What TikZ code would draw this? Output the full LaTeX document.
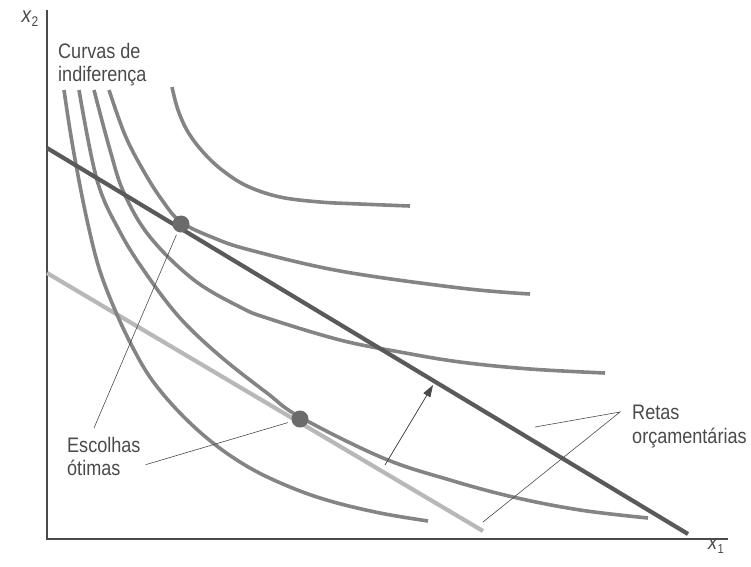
\documentclass[tikz,border=0pt]{standalone}
\usepackage{fontspec}
\usetikzlibrary{calc,positioning,arrows.meta}
\newfontfamily\labelfont[FakeStretch=0.86]{Liberation Sans}
\definecolor{curvegray}{HTML}{848484}
\definecolor{budgetdark}{HTML}{5A5A5A}
\definecolor{budgetlight}{HTML}{B8B8B8}
\definecolor{textgray}{HTML}{4A4A4A}

\begin{document}
\begin{tikzpicture}[x=1pt,y=-1pt,
	indiff/.style={curvegray, line width=3.6pt},
	budget/.style={line width=4.2pt},
	optdot/.style={circle, fill=budgetdark!90, minimum size=17pt, inner sep=0pt},
	leader/.style={textgray, line width=0.6pt},
	lbl/.style={font=\labelfont\fontsize{21}{23.5}\selectfont, text=textgray, align=left, inner sep=0pt, anchor=north west}]
	\useasboundingbox (0,0) rectangle (751,566);
	
	%axes
	\coordinate (orig) at (47,539);
	\draw[textgray, line width=1.6pt] (47,10) -- (orig) -- (728,539);
	\node[text=textgray, font=\labelfont\fontsize{22}{22}\selectfont] (xtwo) at (30,19) {\textit{x}\raisebox{-4pt}{\fontsize{14}{14}\selectfont 2}};
	\node[text=textgray, font=\labelfont\fontsize{21}{21}\selectfont] (xone) at (716,546) {\textit{x}\raisebox{-4pt}{\fontsize{13}{13}\selectfont 1}};
	
	%old budget line
	\draw[budget, budgetlight] (47,273) -- (483,531);
	
	%indifference curves
	\draw[indiff] plot [smooth, tension=0.6] coordinates {(64,90) (70,130) (77,170) (87,220) (99,268) (115,310) (133,348) (152,380) (180,413) (213,443) (250,468) (290,487) (330,501) (380,513) (428,521)};
	\draw[indiff] plot [smooth, tension=0.6] coordinates {(79,90) (97,180) (120,232) (147,275) (180,318) (220,356) (267,393) (300,417) (383,458) (450,480) (513,497) (580,510) (648,518)};
	\draw[indiff] plot [smooth, tension=0.6] coordinates {(94,90) (110,150) (124,193) (150,237) (194,280) (240,307) (267,318) (340,340) (400,352) (460,362) (530,369) (605,373)};
	\draw[indiff] plot [smooth, tension=0.6] coordinates {(109,90) (125,135) (143,170) (162,200) (181,222) (214,238) (250,250) (340,271) (460,288) (530,294)};
	\draw[indiff] plot [smooth, tension=0.6] coordinates {(172,87) (178,110) (188,132) (203,152) (222,170) (247,186) (280,197) (320,202) (360,204) (410,206)};
	
	%new budget line
	\draw[budget, budgetdark] (47,148) -- (688,534);
	
	%optimal choices
	\node[optdot] (optnew) at (181,224) {};
	\node[optdot] (optold) at (300,419) {};
	
	%shift of the budget line
	\coordinate (shtail) at (385,465);
	\coordinate (shtip) at (433,385);
	\draw[leader, line width=0.8pt, -{Triangle[length=12pt,width=8pt]}] (shtail) -- (shtip);
	
	%labels
	\node[lbl] (curvas) at (58,43) {Curvas de\\indiferença};
	\node[lbl] (escolhas) at (67,437) {Escolhas\\ótimas};
	\node[lbl] (retas) at (632,405) {Retas\\orçamentárias};
	
	%leaders
	\draw[leader, shorten >=3pt] ([shift={(27pt,9pt)}]escolhas.north west) -- (optnew);
	\draw[leader, shorten >=4pt] ([shift={(5pt,-8pt)}]escolhas.east) -- (optold);
	\coordinate (rjoin) at ([shift={(-12pt,-7pt)}]retas.north west);
	\coordinate (rnew) at (535,427);
	\coordinate (rold) at (483,522);
	\draw[leader] (rnew) -- (rjoin) -- (rold);
\end{tikzpicture}
\end{document}
